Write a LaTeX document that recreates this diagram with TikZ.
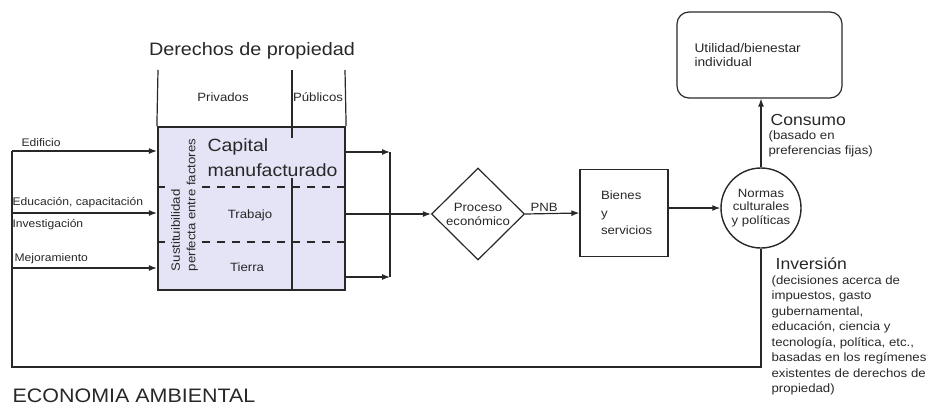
\documentclass[tikz,border=0pt]{standalone}
\usepackage{fontspec}
\setmainfont[FakeStretch=1.1]{Liberation Sans}
\usetikzlibrary{arrows.meta,shapes.geometric,positioning}
\definecolor{boxfill}{RGB}{228,228,246}
\definecolor{tinta}{RGB}{40,40,40}
\tikzset{
  flecha/.style={-{Latex[length=8pt,width=6pt]}},
  chico/.style={font=\fontsize{12}{15.5}\selectfont, align=left, inner sep=0pt},
  etiqueta/.style={font=\fontsize{11}{13}\selectfont, inner sep=0pt, anchor=west},
  grande/.style={font=\fontsize{16}{19}\selectfont, inner sep=0pt, anchor=west},
}
\begin{document}
\begin{tikzpicture}[x=1pt, y=-1pt, line width=1.2pt, draw=tinta, text=tinta]
    \useasboundingbox (0,0) rectangle (933,407);

    % Define nodes
    \node[draw, line width=2.2pt, fill=boxfill, minimum width=187pt, minimum height=163pt, inner sep=0pt] (factores) at (251.5,208.5) {};
    \node[diamond, draw, minimum width=93pt, minimum height=92pt, inner sep=0pt] (proceso) at (478,214) {};
    \node[draw, minimum width=88pt, minimum height=87pt, text width=46pt, font=\fontsize{12}{17.5}\selectfont, align=left] (bienes) at (624,213) {Bienes\\y\\servicios};
    \node[circle, draw, line width=1.4pt, minimum size=80pt, inner sep=0pt, font=\fontsize{12}{13.5}\selectfont, align=center] (normas) at (761,208) {Normas\\culturales\\y políticas};
    \node[draw, rounded corners=12pt, minimum width=165pt, minimum height=86pt, text width=130pt, font=\fontsize{12.5}{14}\selectfont, align=left] (utilidad) at (759.5,55) {Utilidad/bienestar\\individual};

    % Derechos de propiedad
    \coordinate (priv) at (158,70);
    \coordinate (pub) at (292,70);
    \coordinate (fin) at (345,70);
    \draw[dash pattern=on 8pt off 7pt, line width=1.6pt] (factores.west |- 0,187) -- (factores.east |- 0,187);
    \draw[dash pattern=on 8pt off 7pt, line width=1.6pt] (factores.west |- 0,242) -- (factores.east |- 0,242);
    \draw (priv) -- (factores.north west);
    \draw (fin) -- (factores.north east);
    \draw (pub) -- (pub |- factores.south);
    \node[font=\fontsize{18}{22}\selectfont, anchor=base] (derechos) at (252,55) {Derechos de propiedad};
    \node[chico] (privados) at (223,97) {Privados};
    \node[chico] (publicos) at (318,97) {Públicos};
    \node[fill=boxfill, inner sep=1pt, anchor=west, align=left, font=\fontsize{17.7}{25}\selectfont] (capital) at (206,158) {Capital\\manufacturado};
    \node[chico, fill=boxfill, inner xsep=2pt, rotate=90] (sustituir) at (184.5,205) {Sustituibilidad\\perfecta entre factores};
    \node[chico] (trabajo) at (250,215) {Trabajo};
    \node[chico] (tierra) at (247,267) {Tierra};

    % Entradas
    \coordinate (e1) at (12,151);
    \coordinate (e2) at (12,213);
    \coordinate (e3) at (12,268);
    \coordinate (esq) at (12,367);
    \draw[flecha] (e1) -- (e1 -| factores.west);
    \draw[flecha] (e2) -- (e2 -| factores.west);
    \draw[flecha] (e3) -- (e3 -| factores.west);
    \node[etiqueta] (edificio) at (21,143) {Edificio};
    \node[etiqueta] (educacion) at (12,203) {Educación, capacitación};
    \node[etiqueta] (investigacion) at (12,225) {Investigación};
    \node[etiqueta] (mejora) at (14,259) {Mejoramiento};

    % Salidas
    \coordinate (s1) at (390,152);
    \coordinate (s3) at (390,277);
    \draw[flecha] (s1 -| factores.east) -- (s1);
    \draw[flecha] (s3 -| factores.east) -- (s3);
    \draw (s1) -- (s3);
    \draw[flecha] (factores.east |- proceso.west) -- (proceso.west);
    \node[chico, font=\fontsize{12}{14}\selectfont, align=center] (procesotxt) at (proceso.center) {Proceso\\económico};
    \draw[flecha] (proceso.east) -- (bienes.west) node[pos=0.35, above=2pt, chico] (pnb) {PNB};
    \draw[flecha] (bienes.east |- normas.west) -- (normas.west);

    % Consumo e inversion
    \draw[flecha] (normas.north) -- (normas.north |- utilidad.south);
    \node[grande] (consumo) at (770,120) {Consumo};
    \node[chico, anchor=north west] (consumotxt) at (768,130) {(basado en\\preferencias fijas)};
    \draw (normas.south) -- (normas.south |- esq) -- (esq) -- (e1);
    \node[grande] (inversion) at (775,264) {Inversión};
    \node[chico, anchor=north west] (inversiontxt) at (771,275) {(decisiones acerca de\\impuestos, gasto\\gubernamental,\\educación, ciencia y\\tecnología, política, etc.,\\basadas en los regímenes\\existentes de derechos de\\propiedad)};

    \node[font=\fontsize{19.5}{23}\selectfont, anchor=base west, inner sep=0pt] (titulo) at (12,402) {ECONOMIA AMBIENTAL};
\end{tikzpicture}
\end{document}
